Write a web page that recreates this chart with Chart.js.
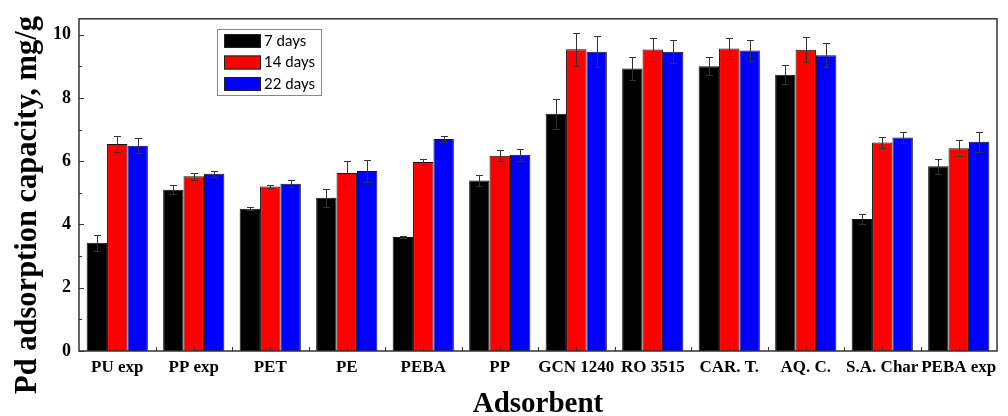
<!DOCTYPE html>
<html>
<head>
<meta charset="utf-8">
<script src="https://cdn.jsdelivr.net/npm/chart.js@4"></script>
<style>
  html, body { margin: 0; padding: 0; background: #fff; }
  #wrap { width: 1008px; height: 416px; }
</style>
</head>
<body>
<div id="wrap"><canvas id="chart"></canvas></div>
<script>
const categories = ["PU exp", "PP exp", "PET", "PE", "PEBA", "PP", "GCN 1240", "RO 3515", "CAR. T.", "AQ. C.", "S.A. Char", "PEBA exp"];
const seriesNames = ["7 days", "14 days", "22 days"];
const days7 = [3.42, 5.10, 4.50, 4.84, 3.60, 5.39, 7.50, 8.93, 9.00, 8.73, 4.17, 5.84];
const days14 = [6.54, 5.52, 5.20, 5.63, 5.97, 6.17, 9.54, 9.53, 9.56, 9.52, 6.59, 6.41];
const days22 = [6.49, 5.60, 5.29, 5.69, 6.70, 6.20, 9.46, 9.46, 9.50, 9.35, 6.75, 6.61];
const err7 = [0.26, 0.14, 0.05, 0.29, 0.04, 0.18, 0.47, 0.35, 0.28, 0.30, 0.16, 0.23];
const err14 = [0.26, 0.11, 0.04, 0.37, 0.10, 0.18, 0.52, 0.35, 0.32, 0.40, 0.16, 0.26];
const err22 = [0.23, 0.10, 0.10, 0.35, 0.10, 0.18, 0.49, 0.36, 0.34, 0.37, 0.18, 0.32];
const yTicks = [0, 1, 2, 3, 4, 5, 6, 7, 8, 9, 10];
const yLabels = [0, 2, 4, 6, 8, 10];
const yMin = 0;
const yMax = 10.5;

const colors = ["#000000", "#ff0000", "#0000ff"];
const errors = [err7, err14, err22];
const serif = "'Liberation Serif', 'Times New Roman', serif";

// error bars, frame, inner ticks, titles and legend box
const extras = {
    id: "extras",
    afterDatasetsDraw(chart) {
        const ctx = chart.ctx;
        const y = chart.scales.y;
        ctx.save();
        ctx.strokeStyle = "#333";
        ctx.lineWidth = 1;
        chart.data.datasets.forEach((ds, i) => {
            const meta = chart.getDatasetMeta(i);
            meta.data.forEach((bar, j) => {
                const v = ds.data[j];
                const e = errors[i][j];
                const top = Math.round(y.getPixelForValue(v + e)) + 0.5;
                const bot = Math.round(y.getPixelForValue(v - e)) + 0.5;
                const x = Math.round(bar.x) + 0.5;
                ctx.beginPath();
                ctx.moveTo(x, top); ctx.lineTo(x, bot);
                ctx.moveTo(x - 3.5, top); ctx.lineTo(x + 3.5, top);
                ctx.moveTo(x - 3.5, bot); ctx.lineTo(x + 3.5, bot);
                ctx.stroke();
            });
        });
        ctx.restore();
    },
    afterDraw(chart) {
        const ctx = chart.ctx;
        const a = chart.chartArea;
        const x = chart.scales.x;
        const y = chart.scales.y;
        ctx.save();

        // frame
        ctx.strokeStyle = "#333";
        ctx.lineWidth = 1.5;
        ctx.strokeRect(a.left, a.top, a.right - a.left, a.bottom - a.top);

        // inner ticks
        ctx.lineWidth = 1;
        ctx.beginPath();
        yTicks.forEach(v => {
            const py = Math.round(y.getPixelForValue(v)) + 0.5;
            const len = v % 2 === 0 ? 5 : 3;
            ctx.moveTo(a.left, py); ctx.lineTo(a.left + len, py);
        });
        categories.forEach((c, i) => {
            const px = Math.round(x.getPixelForValue(i)) + 0.5;
            ctx.moveTo(px, a.bottom); ctx.lineTo(px, a.bottom - 4);
            if (i > 0) {
                const bx = Math.round(x.getPixelForValue(i - 0.5)) + 0.5;
                ctx.moveTo(bx, a.bottom); ctx.lineTo(bx, a.bottom - 4);
            }
        });
        ctx.stroke();

        // axis titles
        ctx.fillStyle = "#000";
        ctx.textAlign = "center";
        ctx.textBaseline = "alphabetic";
        ctx.font = "bold 29px " + serif;
        ctx.fillText("Adsorbent", 538, 412);
        ctx.font = "bold 30.5px " + serif;
        ctx.translate(36, 205);
        ctx.rotate(-Math.PI / 2);
        ctx.fillText("Pd adsorption capacity, mg/g", 0, 0);
        ctx.setTransform(1, 0, 0, 1, 0, 0);

        // legend
        ctx.fillStyle = "#fff";
        ctx.fillRect(217.5, 29.5, 104, 66);
        ctx.strokeStyle = "#888";
        ctx.lineWidth = 1;
        ctx.strokeRect(217.5, 29.5, 104, 66);
        ctx.font = "15px Lato, 'Open Sans', sans-serif";
        ctx.textAlign = "left";
        ctx.textBaseline = "middle";
        chart.data.datasets.forEach((ds, i) => {
            const cy = 41 + i * 21.5;
            ctx.fillStyle = ds.backgroundColor;
            ctx.fillRect(224, cy - 7, 37, 14);
            ctx.strokeStyle = "#222";
            ctx.strokeRect(224.5, cy - 6.5, 36, 13);
            ctx.fillStyle = "#000";
            ctx.fillText(ds.label, 264, cy);
        });
        ctx.restore();
    }
};

new Chart(document.getElementById("chart"), {
    type: "bar",
    data: {
        labels: categories,
        datasets: [days7, days14, days22].map((d, i) => ({
            label: seriesNames[i],
            data: d,
            backgroundColor: colors[i],
            borderColor: "#111",
            borderWidth: 1,
            categoryPercentage: 0.8,
            barPercentage: 1.0
        }))
    },
    options: {
        responsive: true,
        maintainAspectRatio: false,
        animation: false,
        layout: { padding: { top: 15, right: 11, left: 0, bottom: 0 } },
        plugins: {
            legend: { display: false },
            tooltip: { enabled: false }
        },
        scales: {
            x: {
                grid: { display: false, drawTicks: false },
                border: { display: false },
                ticks: {
                    color: "#000",
                    font: { family: serif, size: 17, weight: "bold" },
                    padding: 6,
                    autoSkip: false,
                    maxRotation: 0,
                    minRotation: 0
                },
                afterFit: s => { s.height = 65; }
            },
            y: {
                min: yMin,
                max: yMax,
                grid: { display: false, drawTicks: false },
                border: { display: false },
                afterBuildTicks: s => { s.ticks = yLabels.map(v => ({ value: v })); },
                ticks: {
                    autoSkip: false,
                    color: "#000",
                    font: { family: serif, size: 18, weight: "bold" },
                    padding: 8
                },
                afterFit: s => { s.width = 79; }
            }
        }
    },
    plugins: [extras]
});
</script>
</body>
</html>
